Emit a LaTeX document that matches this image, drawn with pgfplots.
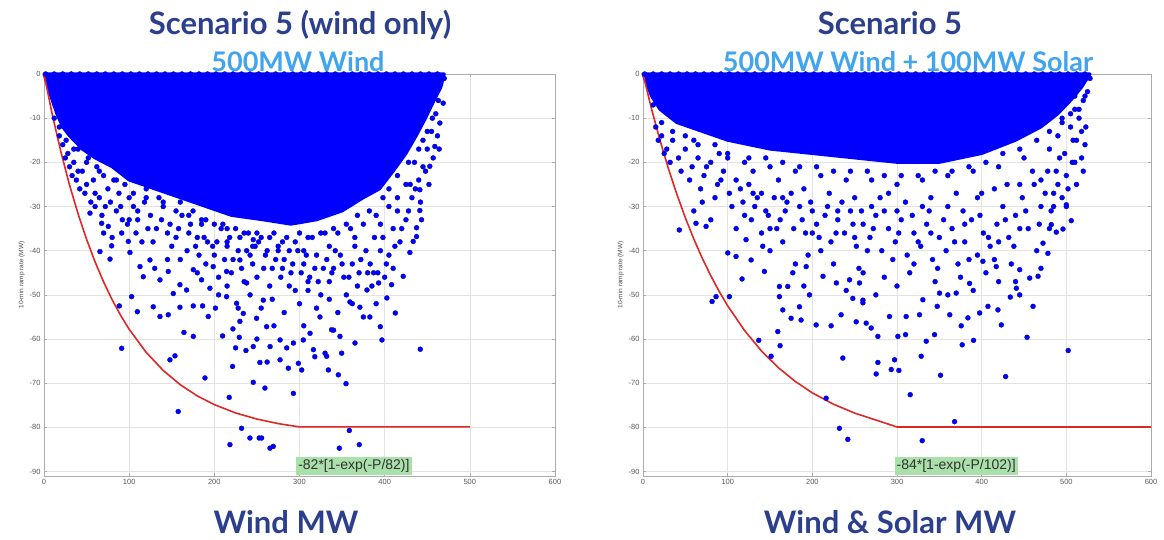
\documentclass[border=0pt]{standalone}
\usepackage{pgfplots}
\pgfplotsset{compat=1.18}
\usepackage{pgfplotstable}
\usepackage{fontspec}
\setmainfont{Liberation Sans}
\newfontfamily\titlefont{Lato}
\definecolor{titleblue}{RGB}{43,63,140}
\definecolor{subblue}{RGB}{65,165,238}
\definecolor{dotblue}{RGB}{0,0,255}
\definecolor{curvered}{RGB}{222,40,40}
\definecolor{boxgreen}{RGB}{170,224,170}

% ---------- left panel data ----------
\pgfplotstableread{
x y
0 0
8 -5
15 -9
22 -12
30 -14
45 -17
60 -19
80 -21
100 -24
130 -26
160 -28
190 -30
220 -32
257 -33
290 -34
320 -33
350 -31
375 -28
394 -26
410 -22
425 -18
437 -14
448 -10
458 -6
466 -3
470 0
}\leftcore

\pgfplotstableread{
x y
2 0
12 0
22 0
32 0
42 0
52 0
62 0
72 0
82 0
92 0
102 0
112 0
122 0
132 0
142 0
152 0
162 0
172 0
182 0
192 0
202 0
212 0
222 0
232 0
242 0
252 0
262 0
272 0
282 0
292 0
302 0
312 0
322 0
332 0
342 0
352 0
362 0
372 0
382 0
392 0
402 0
412 0
422 0
432 0
442 0
452 0
462 0
470 -1
}\lefttop

\pgfplotstableread{
x y
22 -16
28 -18
35 -20
40 -17
45 -22
52 -19
58 -24
62 -21
70 -23
75 -26
82 -24
88 -27
95 -25
100 -28
30 -21
38 -24
48 -27
55 -29
65 -28
72 -30
85 -31
92 -33
105 -30
110 -33
118 -29
125 -32
132 -35
140 -30
148 -34
155 -37
162 -32
170 -36
178 -39
185 -34
192 -38
200 -41
208 -35
215 -39
222 -42
230 -37
238 -40
245 -43
252 -38
260 -41
268 -44
275 -39
282 -42
290 -45
298 -40
305 -43
312 -46
320 -41
328 -44
335 -47
342 -40
350 -43
358 -46
365 -39
372 -42
380 -45
388 -37
395 -40
402 -43
410 -35
418 -38
425 -33
432 -28
440 -24
445 -21
450 -17
455 -13
460 -9
120 -26
135 -28
160 -29
175 -31
190 -33
210 -34
225 -35
240 -36
255 -37
270 -36
285 -37
300 -36
315 -37
330 -36
345 -36
360 -35
375 -34
390 -32
405 -30
415 -28
425 -25
435 -20
445 -15
115 -38
145 -42
180 -45
205 -46
235 -47
265 -48
295 -49
325 -50
355 -50
385 -48
18 -14
25 -19
33 -23
42 -26
50 -25
60 -27
68 -32
78 -29
90 -30
98 -34
108 -36
122 -35
128 -38
138 -33
150 -39
158 -35
168 -40
172 -34
182 -41
188 -37
198 -39
203 -38
212 -42
218 -37
228 -40
232 -44
242 -41
248 -39
258 -44
262 -40
272 -42
278 -46
288 -40
292 -43
302 -45
308 -41
318 -44
322 -47
332 -42
338 -45
348 -41
352 -46
362 -43
368 -48
378 -40
383 -43
392 -45
398 -37
405 -41
412 -39
420 -35
428 -31
436 -26
442 -29
448 -22
452 -25
457 -19
462 -14
464 -17
205 -50
215 -48
228 -53
242 -50
255 -53
268 -51
282 -54
288 -48
300 -52
310 -49
320 -53
335 -51
345 -54
362 -52
375 -55
390 -52
230 -56
270 -57
305 -57
340 -58
285 -62
318 -64
225 -62
250 -60
12 -10
18 -12
26 -15
35 -17
50 -20
65 -22
85 -24
105 -27
120 -28
140 -29
155 -31
170 -32
185 -33
200 -34
215 -35
235 -36
250 -36
265 -37
280 -38
295 -38
310 -37
325 -36
340 -35
355 -34
368 -32
382 -31
398 -28
405 -26
415 -23
428 -20
440 -17
450 -13
456 -10
463 -6
110 -31
145 -36
180 -37
215 -38
245 -39
275 -40
305 -40
335 -39
365 -37
395 -34
415 -31
430 -25
160 -42
190 -43
220 -45
250 -46
280 -44
310 -47
340 -44
370 -45
400 -46
410 -44
130 -44
100 -33
80 -37
70 -36
60 -30
40 -22
54 -31.5
67.7 -33.8
75.5 -34.5
91.2 -36
99 -37.9
100.9 -40.4
112.7 -43.6
116.6 -45.9
124.4 -42.1
136.2 -46.6
145.9 -44.7
151.8 -49.7
159.6 -47.7
167.4 -48.9
175.3 -44.3
185 -46.6
194.8 -48.5
198.7 -43.6
214.4 -50.4
226.1 -51.9
234 -54.2
249.6 -55.3
257.5 -51.2
237.9 -47.3
214.4 -44.7
230 -42.1
245.7 -37.5
261.4 -57.2
65.7 -40.2
77.5 -41.9
79.4 -38.9
88.4 -52.5
91.2 -62.1
102.9 -50.4
109.6 -53.8
128.3 -52.7
136.2 -54.9
145.9 -54.5
147.9 -64.7
153.8 -63.8
157.6 -76.4
159.6 -52.8
164.3 -58.5
175.3 -59.4
175.3 -52.5
186.2 -52.5
189 -68.8
192.9 -54.9
209.7 -59.3
217.5 -73.2
221.4 -66.2
229.3 -59.6
232 -80.2
218.3 -83.9
237.1 -62.6
241.8 -82.4
245.7 -69.8
252.7 -82.4
253.5 -65.3
259.4 -71.1
262 -65.2
265.3 -84.7
245.7 -61.7
221.8 -57.7
201.3 -53
269.2 -84.3
255.5 -82.4
277.2 -64.7
286.9 -66.6
292.8 -72.3
298.7 -65.5
302.6 -67
312.4 -58.7
316.3 -62.4
330 -63.2
331.9 -63.9
333.9 -67
345.6 -68.1
346.8 -84.7
349.5 -63.2
354.6 -70.1
358.5 -80.7
365.2 -60.9
370.2 -83.9
394.9 -57.2
396.8 -60.2
412.5 -54.1
441.8 -62.3
402.6 -50.7
421.8 -45.8
408.1 -47.7
429.6 -40.4
433.5 -37.9
437.4 -34.8
441.3 -30.9
382.6 -55
370.9 -52.8
359.2 -51.6
347.5 -59.4
337.7 -57.9
324 -55
304.5 -60.2
292.8 -60.9
277.2 -60.2
265.5 -61.7
392.9 -47.3
387 -45
379.2 -48.9
468.7 -6.6
464.8 -11.1
458.9 -16.4
453 -20.9
441.3 -26.2
443.3 -33
437.4 -36.8
}\leftpts

\pgfplotstableread{
x y
0 0
10 -9.43
20 -17.74
30 -25.13
40 -31.65
50 -37.43
60 -42.55
70 -47.08
80 -51.09
90 -54.64
100 -57.78
120 -63.02
140 -67.12
160 -70.34
180 -72.87
200 -74.84
225 -76.73
250 -78.11
275 -79.14
300 -79.89
500 -79.89
}\leftcurve

% ---------- right panel data ----------
\pgfplotstableread{
x y
0 0
10 -5
20 -8
40 -11
70 -13
100 -15
150 -17
200 -18
250 -19
300 -20
350 -20
400 -18
440 -15
470 -12
490 -9
505 -6
518 -3
528 0
}\rightcore

\pgfplotstableread{
x y
2 0
12 0
22 0
32 0
42 0
52 0
62 0
72 0
82 0
92 0
102 0
112 0
122 0
132 0
142 0
152 0
162 0
172 0
182 0
192 0
202 0
212 0
222 0
232 0
242 0
252 0
262 0
272 0
282 0
292 0
302 0
312 0
322 0
332 0
342 0
352 0
362 0
372 0
382 0
392 0
402 0
412 0
422 0
432 0
442 0
452 0
462 0
472 0
482 0
492 0
502 0
512 0
522 0
528 -1
}\righttop

\pgfplotstableread{
x y
15 -12
22 -14
28 -17
35 -15
42 -19
50 -17
58 -21
65 -19
72 -23
80 -20
88 -25
95 -22
102 -27
110 -24
118 -29
125 -25
132 -30
140 -27
148 -32
155 -28
162 -33
170 -29
178 -35
185 -30
192 -36
200 -31
208 -37
215 -32
222 -38
230 -33
238 -36
245 -31
252 -39
260 -34
268 -37
275 -32
282 -40
290 -35
298 -38
305 -33
312 -41
320 -36
328 -39
335 -34
342 -42
350 -37
358 -40
365 -35
372 -43
380 -38
388 -33
395 -41
402 -36
410 -39
418 -34
425 -30
432 -37
440 -32
448 -28
455 -35
462 -25
470 -30
478 -22
485 -27
492 -19
500 -23
508 -15
60 -15
90 -18
120 -20
150 -21
180 -22
210 -23
240 -24
270 -24
300 -25
330 -24
360 -23
390 -22
420 -21
450 -19
480 -17
100 -19
130 -22
160 -24
190 -26
220 -27
250 -28
280 -28
310 -29
340 -28
370 -27
400 -27
430 -25
460 -22
490 -14
515 -10
520 -6
510 -20
500 -30
495 -10
140 -36
165 -38
195 -41
225 -43
255 -44
285 -46
315 -45
345 -47
375 -46
405 -45
435 -43
465 -40
190 -48
240 -49
300 -48
360 -50
420 -47
510 -5
515 -8
505 -12
512 -15
522 -16
498 -18
507 -20
490 -25
495 -28
485 -30
525 -4
518 -13
18 -15
25 -18
32 -20
45 -22
55 -24
68 -26
75 -21
85 -28
92 -24
105 -30
115 -26
128 -33
135 -28
145 -31
158 -35
168 -31
175 -27
188 -33
198 -29
205 -34
218 -30
228 -36
235 -29
248 -34
258 -31
265 -40
272 -35
285 -31
295 -42
302 -36
318 -32
325 -38
338 -31
348 -44
355 -33
368 -38
378 -31
385 -42
398 -32
408 -37
415 -42
428 -33
438 -39
445 -35
452 -31
468 -34
475 -27
482 -31
488 -22
502 -26
505 -9
518 -19
512 -25
520 -22
523 -12
60 -31
110 -35
150 -40
210 -40
260 -45
320 -43
390 -49
440 -47
470 -44
180 -43
275 -50
12 -7
22 -11
35 -13
50 -14
65 -16
85 -16
100 -18
125 -19
145 -19
165 -20
185 -21
205 -21
225 -22
245 -22
265 -22
285 -23
305 -23
325 -23
345 -22
365 -22
385 -21
405 -20
425 -18
445 -17
465 -15
480 -13
495 -11
510 -8
522 -5
70 -29
130 -27
165 -28
200 -36
230 -31
270 -30
290 -27
330 -30
360 -30
395 -28
415 -26
445 -25
470 -24
480 -35
300 -31
340 -36
380 -34
420 -38
250 -37
150 -35
120 -32
80 -33
42.9 -35.3
62.6 -33.8
74.5 -34.5
81.6 -51.5
86.3 -50.4
100.1 -40.5
102 -50.4
117 -46.4
109.9 -41.3
127.7 -42.1
136.7 -60.3
143.4 -44.7
151.3 -63.9
159.2 -58.3
161.9 -61.5
161.1 -50.4
165.1 -53.4
171 -48.1
174.9 -55.3
184.8 -52.7
186.7 -55.7
204.5 -56.8
216.3 -73.4
222.2 -57
232 -80.2
236 -64.3
241.9 -82.7
234 -54.5
247.8 -50.8
251.8 -56.1
196.6 -50
176.9 -45
161.1 -48.1
228.4 -47.3
212.6 -45.8
243.9 -46.6
259.7 -51.2
192.7 -43.6
141.4 -39
121.7 -37.5
259.7 -51.8
269.5 -57.5
277.4 -59.4
277.4 -65.3
275.4 -67.9
293.2 -66.9
297.1 -64.7
302.2 -67.1
301 -59.4
310.1 -59
315.6 -72.6
328.6 -63.9
329.8 -83
326.6 -54.5
334.5 -60.5
344.3 -59
351.4 -68.2
347.5 -52.6
362.3 -54.5
368 -78.7
375.8 -57
377 -61.3
383.7 -55.2
390.4 -60.3
397.6 -54.1
407.4 -52.6
419.2 -53.4
423.2 -56.8
428.3 -68.5
433.8 -50.5
444.9 -50
453.6 -59.6
460.7 -52.6
456.7 -46.2
466.6 -45.8
444.9 -44.3
441 -48.5
502.2 -62.6
478.2 -40.6
496 -35.1
505.8 -33.2
488.1 -35.8
472.4 -38.3
482.2 -34.1
500 -29.6
417.2 -43.6
401.4 -42.4
385.7 -47.4
369.9 -49.6
350.2 -49.6
330.5 -51.1
310.8 -54.9
291.1 -54.9
263.6 -56.4
255.7 -47.3
}\rightpts

\pgfplotstableread{
x y
0 0
10 -7.85
20 -14.95
30 -21.40
40 -27.24
50 -32.54
60 -37.35
70 -41.71
80 -45.65
90 -49.23
100 -52.48
120 -58.09
140 -62.71
160 -66.50
180 -69.62
200 -72.18
225 -74.75
250 -76.76
275 -78.33
300 -79.9
600 -79.9
}\rightcurve

\pgfplotsset{
  rampaxis/.style={
    anchor=south west, scale only axis,
    height=402pt,
    xmin=0, xmax=600, ymin=-91, ymax=0,
    xtick={0,100,...,600}, ytick={-90,-80,...,0},
    grid=major, grid style={gray!22, line width=0.5pt},
    axis line style={gray!65, line width=0.6pt},
    tick style={gray!65, line width=0.5pt},
    tick align=inside, major tick length=3pt,
    ticklabel style={font=\fontsize{7.5}{8}\selectfont, text=black!65},
    /pgf/number format/assume math mode=true,
    ylabel={10-min ramp rate (MW)},
    ylabel style={font=\fontsize{6.5}{7}\selectfont, text=black!70, yshift=-2pt},
    clip=false,
  },
  coreplot/.style={fill=dotblue, draw=dotblue, line width=3pt, line join=round},
  dotplot/.style={only marks, mark=*, mark size=2.5pt,
    mark options={fill=dotblue, draw=dotblue!70!black, line width=0.3pt}},
  curveplot/.style={curvered, line width=1.6pt, no marks},
}
\tikzset{
  fitbox/.style={anchor=south west, fill=boxgreen, inner xsep=2pt, inner ysep=2.5pt,
    font=\fontsize{14}{15}\selectfont, text=black!80},
}

\begin{document}
\begin{tikzpicture}[x=1pt,y=1pt]
\useasboundingbox (0,0) rectangle (1164,540);
\fill[white] (0,0) rectangle (1164,540);

\begin{axis}[rampaxis, at={(44pt,64pt)}, width=511pt]
\addplot[coreplot] table {\leftcore} -- cycle;
\addplot[dotplot] table {\leftpts};
\addplot[dotplot] table {\lefttop};
\addplot[curveplot] table {\leftcurve};
\node[fitbox] at (axis cs:296,-90.8) {-82*[1-exp(-P/82)]};
\end{axis}

\begin{axis}[rampaxis, at={(643pt,64pt)}, width=508pt]
\addplot[coreplot] table {\rightcore} -- cycle;
\addplot[dotplot] table {\rightpts};
\addplot[dotplot] table {\righttop};
\addplot[curveplot] table {\rightcurve};
\node[fitbox] at (axis cs:297,-90.8) {-84*[1-exp(-P/102)]};
\end{axis}

\node[anchor=base, text=titleblue, font=\titlefont\bfseries\fontsize{31}{33}\selectfont] at (300,505) {Scenario 5 (wind only)};
\node[anchor=base, text=subblue, font=\titlefont\bfseries\fontsize{27}{29}\selectfont] at (298,468) {500MW Wind};
\node[anchor=base, text=titleblue, font=\titlefont\bfseries\fontsize{31}{33}\selectfont] at (890,505) {Scenario 5};
\node[anchor=base, text=subblue, font=\titlefont\bfseries\fontsize{27}{29}\selectfont] at (908,468) {500MW Wind + 100MW Solar};
\node[anchor=base, text=titleblue, font=\titlefont\bfseries\fontsize{31}{33}\selectfont] at (286,6) {Wind MW};
\node[anchor=base, text=titleblue, font=\titlefont\bfseries\fontsize{31}{33}\selectfont] at (890,6) {Wind \& Solar MW};
\end{tikzpicture}
\end{document}
